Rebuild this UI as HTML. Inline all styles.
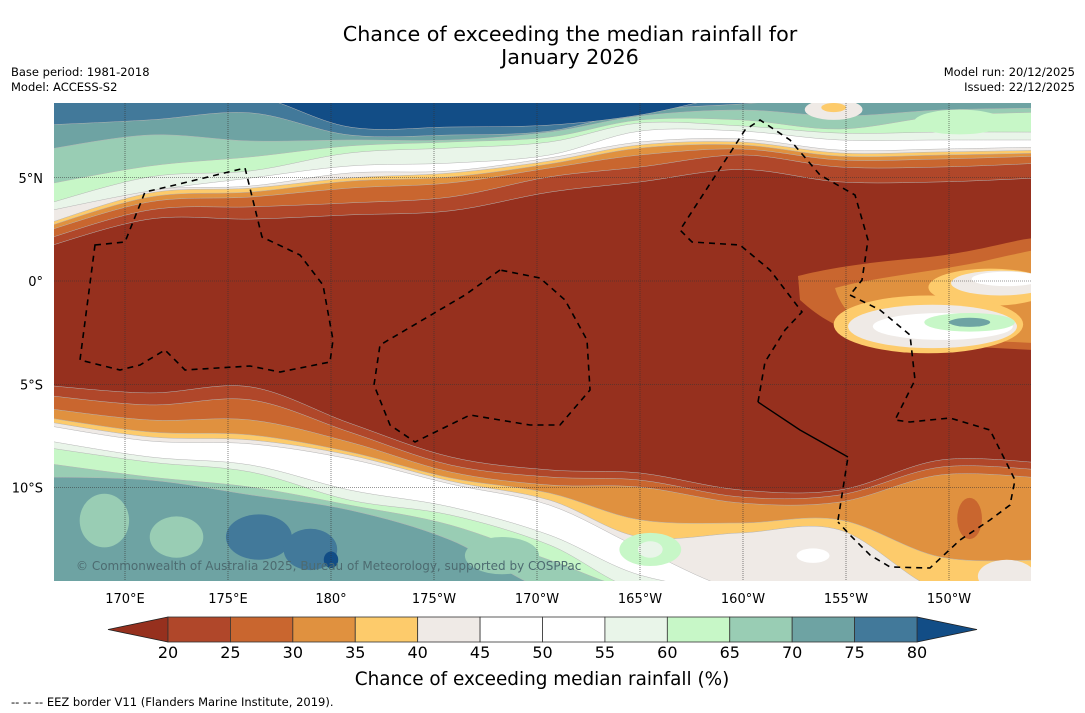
<!DOCTYPE html>
<html><head><meta charset="utf-8"><style>
body{margin:0;background:#fff;width:1085px;height:713px;overflow:hidden;font-family:"DejaVu Sans","Liberation Sans",sans-serif;}
svg{position:absolute;left:0;top:0}
</style></head><body>
<svg id="chart" width="1085" height="713" viewBox="0 0 1085 713">
<text x="570" y="41" font-size="20.7" text-anchor="middle">Chance of exceeding the median rainfall for</text>
<text x="570" y="64" font-size="20.7" text-anchor="middle">January 2026</text>
<text x="11" y="76" font-size="11.5">Base period: 1981-2018</text>
<text x="11" y="91" font-size="11.5">Model: ACCESS-S2</text>
<text x="1075" y="76" font-size="11.5" text-anchor="end">Model run: 20/12/2025</text>
<text x="1075" y="91" font-size="11.5" text-anchor="end">Issued: 22/12/2025</text>
<defs><clipPath id="mapclip"><rect x="54" y="103" width="977" height="478"/></clipPath></defs>
<g id="map" clip-path="url(#mapclip)"></g>
<g id="overlay"></g>
<g id="cbar"></g>
<text x="542" y="685" font-size="18.4" text-anchor="middle">Chance of exceeding median rainfall (%)</text>
<text x="11" y="706" font-size="11.5">--  --  -- EEZ border V11 (Flanders Marine Institute, 2019).</text>
</svg>
<script>
// ---- data ----
const levels = [20,25,30,35,40,45,50,55,60,65,70,75,80];
const colors = ["#96301e","#b0472a","#c9662f","#e0913f","#fdcb6b","#efeae6","#ffffff","#ffffff","#e9f5e9","#c7f7c7","#99cdb4","#6ea3a3","#42799a","#124d86"];
const lonTicks = [170,175,180,185,190,195,200,205,210];
const lonTickLabels = ["170°E","175°E","180°","175°W","170°W","165°W","160°W","155°W","150°W"];
const latTicks = [5,0,-5,-10];
const latTickLabels = ["5°N","0°","5°S","10°S"];
const sampleLons = [166.6,171.2,176.1,180.9,185.8,190.6,195.0,199.9,204.7,209.6,214.0];
// northern contour latitudes
const north20 = [1.6,3.0,3.0,3.2,3.4,4.3,4.8,5.4,4.8,4.8,5.0];
const north30 = [1.98,3.44,3.59,3.78,4.07,5.04,5.52,6.1,5.52,5.52,5.71];
const north35 = [2.37,3.83,4.07,4.5,4.75,5.47,6.1,6.39,5.86,5.91,6.05];
const north40 = [2.57,4.07,4.31,4.84,5.04,5.67,6.44,6.59,6.05,6.1,6.2];
const north45 = [2.71,4.26,4.5,4.99,5.23,5.81,6.59,6.73,6.2,6.25,6.34];
const north55 = [3.34,4.41,4.6,5.23,5.33,5.96,6.73,6.88,6.34,6.39,6.49];
const north60 = [3.34,4.36,4.99,5.57,5.71,6.1,7.26,7.26,6.83,6.83,6.83];
const north65 = [3.68,5.04,5.33,6.2,6.44,6.73,7.65,7.51,7.16,7.21,7.21];
const north70 = [4.65,5.57,6.01,6.54,6.73,6.97,7.8,7.8,7.36,7.99,8.18];
const north75 = [6.34,7.07,6.78,6.83,6.83,7.21,7.99,8.28,7.99,8.28,8.38];
const north80 = [7.55,7.8,8.14,7.07,7.07,7.26,8.23,8.57,8.9,9,9];
const north85 = [9,9,9,7.46,7.46,7.55,8.04,9,9,9,9];
// southern contour latitudes
const south20 = [-5.04,-5.42,-5.13,-6.88,-8.52,-9.15,-9.30,-10.12,-10.12,-8.67,-8.81];
const south25 = [-5.52,-6.0,-5.76,-7.31,-8.91,-9.49,-9.64,-10.46,-10.36,-9.01,-9.15];
const south30 = [-6.15,-6.73,-6.73,-7.8,-9.25,-9.88,-9.98,-10.75,-10.70,-9.39,-9.54];
const south35 = [-6.59,-7.31,-7.46,-8.28,-9.54,-10.27,-11.57,-11.72,-11.57,-13.37,-13.51];
const south40 = [-6.78,-7.55,-7.7,-8.43,-9.69,-10.61,-12.4,-12.2,-12.06,-15,-15];
const south45 = [-6.97,-7.75,-7.89,-8.62,-9.83,-10.85,-12.93,-15,-15,-15,-15];
const south55 = [-7.7,-8.52,-8.91,-10.12,-10.94,-12.3,-14.24,-15,-15,-15,-15];
const south60 = [-8.04,-8.77,-9.25,-10.61,-11.33,-12.78,-15,-15,-15,-15,-15];
const south65 = [-8.81,-9.49,-9.98,-10.85,-11.82,-13.51,-15,-15,-15,-15,-15];
const south70 = [-9.49,-9.64,-10.36,-11.09,-12.54,-15,-15,-15,-15,-15,-15];

// ---- axes ----
const X = lon => 331 + (lon-180)*20.6;
const Y = lat => 281 - lat*20.65;
const NS = "http://www.w3.org/2000/svg";
function mk(tag, attrs, parent){const e=document.createElementNS(NS,tag);for(const k in attrs)e.setAttribute(k,attrs[k]);parent.appendChild(e);return e;}
const map = document.getElementById('map');
const overlay = document.getElementById('overlay');
function crPath(pts){
  let d="M"+pts[0][0].toFixed(1)+","+pts[0][1].toFixed(1);
  for(let i=0;i<pts.length-1;i++){
    const p0=pts[Math.max(0,i-1)],p1=pts[i],p2=pts[i+1],p3=pts[Math.min(pts.length-1,i+2)];
    const c1=[p1[0]+(p2[0]-p0[0])/6,p1[1]+(p2[1]-p0[1])/6];
    const c2=[p2[0]-(p3[0]-p1[0])/6,p2[1]-(p3[1]-p1[1])/6];
    d+=` C${c1[0].toFixed(1)},${c1[1].toFixed(1)} ${c2[0].toFixed(1)},${c2[1].toFixed(1)} ${p2[0].toFixed(1)},${p2[1].toFixed(1)}`;
  }
  return d;
}
function band(arr,col,name,north){
  const pts = sampleLons.map((l,i)=>[X(l)+(i==0?-12:0)+(i==sampleLons.length-1?12:0),Y(arr[i])]);
  const d = crPath(pts)+(north?" L1045,80 L40,80 Z":" L1045,620 L40,620 Z");
  const p=mk('path',{d:d,fill:col,stroke:'#b5b5b5','stroke-width':0.5},map);
  
  
}
const bg=mk('rect',{x:54,y:103,width:977,height:478,fill:colors[0]},map);


const northSeq=[[north20,1],[north30,2],[north35,3],[north40,4],[north45,5],[north55,6],[north60,8],[north65,9],[north70,10],[north75,11],[north80,12],[north85,13]];
northSeq.forEach((s,i)=>band(s[0],colors[s[1]],'north-band-'+i,true));
const southSeq=[[south20,1],[south25,2],[south30,3],[south35,4],[south40,5],[south45,6],[south55,8],[south60,9],[south65,10],[south70,11]];
southSeq.forEach((s,i)=>band(s[0],colors[s[1]],'south-band-'+i,false));

// orange tongue into brown on right
const tongue=mk('path',{d:"M798,276 C830,268 870,262 920,258 C980,252 1010,240 1035,238 L1035,350 C990,348 930,345 870,336 C840,330 820,318 800,300 Z",fill:colors[2]},map);


const tongue2=mk('path',{d:"M835,288 C870,278 930,272 980,262 C1010,255 1025,252 1035,250 L1035,343 C990,341 930,338 880,331 C852,322 840,305 835,288 Z",fill:colors[3]},map);



// patches : [lon, lat, rx(deg), ry(deg), colorIndex]
const patches = [
 [169,-11.6,1.2,1.3,10],[172.5,-12.4,1.3,1.0,10],[176.5,-12.4,1.6,1.1,12],[179,-13.0,1.3,1.0,12],[180,-13.5,0.35,0.4,13],
 [188.3,-13.3,1.8,0.9,10],[195.5,-13.0,1.5,0.8,9],[195.5,-13.0,0.6,0.4,8],
 [203,-13.2,1.6,0.6,5],[203.4,-13.3,0.8,0.35,6],[211,-11.5,0.6,1.0,2],[212.8,-14.3,1.4,0.8,5],
 [204.4,8.3,1.4,0.5,5],[204.4,8.4,0.6,0.22,4],[210.5,7.7,2.2,0.6,9],
 [212,-0.3,3.0,0.9,4],[212.5,-0.1,2.4,0.6,5],[212.8,0.1,1.7,0.35,6],
 [209,-2.1,4.6,1.4,4],[209.2,-2.2,4.1,1.05,5],[209.7,-2.2,3.4,0.65,6],
 [211,-2.0,2.2,0.45,9],[211,-2.0,1.0,0.22,11]
];
patches.forEach((p,i)=>{
  const e=mk('ellipse',{cx:X(p[0]),cy:Y(p[1]),rx:p[2]*20.6,ry:p[3]*20.65,fill:colors[p[4]]},map);
  
  
});

// gridlines
lonTicks.forEach((l,i)=>{
  const g=mk('line',{x1:X(l),x2:X(l),y1:103,y2:581,stroke:'#333','stroke-width':0.6,'stroke-dasharray':'1,1'},overlay);
  
  
  const t=mk('text',{x:X(l),y:603,'font-size':13,'text-anchor':'middle'},overlay);
  t.textContent=lonTickLabels[i];
  
  
});
latTicks.forEach((l,i)=>{
  const g=mk('line',{x1:54,x2:1031,y1:Y(l),y2:Y(l),stroke:'#333','stroke-width':0.6,'stroke-dasharray':'1,1'},overlay);
  
  
  const t=mk('text',{x:43,y:Y(l)+5,'font-size':13,'text-anchor':'end'},overlay);
  t.textContent=latTickLabels[i];
  
  
});
// EEZ borders
const eez=[
 "M95,245 L125,242 L145,192 L175,185 L245,168 L262,237 L300,255 L323,285 L333,340 L330,362 L280,372 L250,366 L185,370 L165,350 L140,365 L120,370 L80,360 Z",
 "M500,270 L465,295 L380,345 L374,385 L390,425 L415,442 L470,415 L530,425 L560,425 L590,390 L587,340 L565,300 L540,278 Z",
 "M838,520 L848,457 M758,402 L765,362 L785,330 L802,312 L770,270 L740,245 L692,242 L680,230 L745,130 L760,120 L790,140 L820,175 L855,195 L868,240 L862,280 L850,295",
 "M850,295 L880,310 L910,335 L915,380 L895,420 L910,422 L950,418 L990,430 L1015,480 L1010,505 L990,520 L960,540 L930,568 L890,567 L870,555 L850,535 L838,522"
];
eez.forEach((d,i)=>{
  const p=mk('path',{d:d,fill:'none',stroke:'#000','stroke-width':1.6,'stroke-dasharray':'6,5'},overlay);
  
  
});
const solid=mk('path',{d:"M758,402 L800,430 L848,457",fill:'none',stroke:'#000','stroke-width':1.4},overlay);


const cp=mk('text',{x:76,y:570,'font-size':12,fill:'#4d6b70'},overlay);
cp.textContent="© Commonwealth of Australia 2025, Bureau of Meteorology, supported by COSPPac";



// colorbar
const cb=document.getElementById('cbar');
const cx0=168, cw=(917-168)/12, cy0=617, ch=25;
const tl=mk('polygon',{points:`108,629.5 ${cx0},${cy0} ${cx0},${cy0+ch}`,fill:colors[0],stroke:'#222','stroke-width':0.8},cb);


const tr=mk('polygon',{points:`977,629.5 917,${cy0} 917,${cy0+ch}`,fill:colors[13],stroke:'#222','stroke-width':0.8},cb);


for(let i=0;i<12;i++){
  const r=mk('rect',{x:cx0+i*cw,y:cy0,width:cw,height:ch,fill:colors[i+1],stroke:'#333','stroke-width':0.8},cb);
  
  
}
levels.forEach((v,i)=>{
  const t=mk('text',{x:cx0+i*cw,y:658,'font-size':16,'text-anchor':'middle'},cb);
  t.textContent=v;
  
  
});
</script>
</body></html>
